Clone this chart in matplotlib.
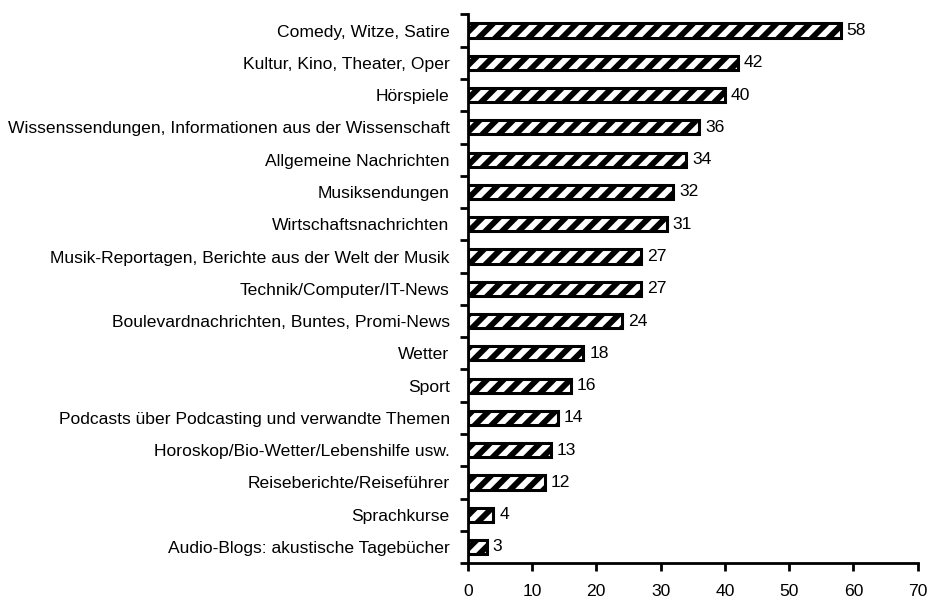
import matplotlib
matplotlib.use("Agg")
import matplotlib.pyplot as plt
import numpy as np

categories = [
    "Comedy, Witze, Satire",
    "Kultur, Kino, Theater, Oper",
    "Hörspiele",
    "Wissenssendungen, Informationen aus der Wissenschaft",
    "Allgemeine Nachrichten",
    "Musiksendungen",
    "Wirtschaftsnachrichten",
    "Musik-Reportagen, Berichte aus der Welt der Musik",
    "Technik/Computer/IT-News",
    "Boulevardnachrichten, Buntes, Promi-News",
    "Wetter",
    "Sport",
    "Podcasts über Podcasting und verwandte Themen",
    "Horoskop/Bio-Wetter/Lebenshilfe usw.",
    "Reiseberichte/Reiseführer",
    "Sprachkurse",
    "Audio-Blogs: akustische Tagebücher",
]
values = [58, 42, 40, 36, 34, 32, 31, 27, 27, 24, 18, 16, 14, 13, 12, 4, 3]
x_ticks = [0, 10, 20, 30, 40, 50, 60, 70]

plt.rcParams["font.family"] = ["Liberation Sans", "DejaVu Sans"]
plt.rcParams["hatch.linewidth"] = 4.2
plt.rcParams["hatch.color"] = "black"

fig = plt.figure(figsize=(9.28, 6.01), dpi=100)
ax = fig.add_axes([0.504, 0.063, 0.485, 0.913])

n = len(categories)
y = np.arange(n)[::-1]
ax.barh(y, values, height=0.44, color="white", edgecolor="black",
        linewidth=2.2, hatch="//")
for yi, v in zip(y, values):
    ax.text(v + 0.9, yi, str(v), va="center", ha="left", fontsize=12.6)

ax.set_xlim(0, 70)
ax.set_ylim(-0.5, n - 0.5)
ax.set_xticks(x_ticks)
ax.set_yticks(y)
ax.set_yticklabels(categories, fontsize=12.6)
ax.set_yticks(np.arange(n + 1) - 0.5, minor=True)
ax.tick_params(axis="y", which="major", length=0, pad=13)
ax.tick_params(axis="y", which="minor", length=6, width=2)
ax.tick_params(axis="x", length=6, width=2, labelsize=12.6, pad=9)

for s in ["top", "right"]:
    ax.spines[s].set_visible(False)
for s in ["left", "bottom"]:
    ax.spines[s].set_linewidth(2)

fig.savefig("out.png", dpi=100)
